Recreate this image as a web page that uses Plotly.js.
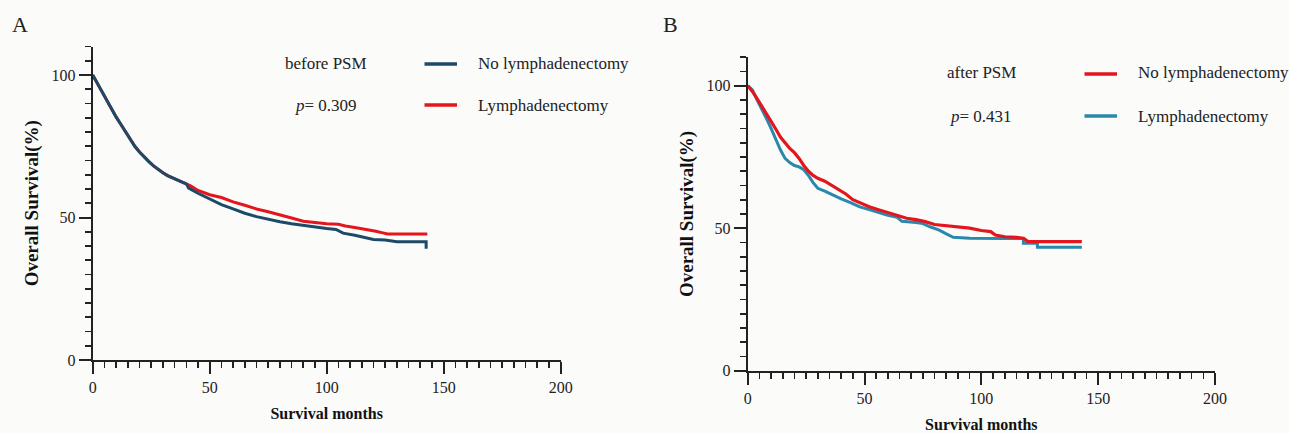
<!DOCTYPE html>
<html>
<head>
<meta charset="utf-8">
<script src="https://cdn.plot.ly/plotly-3.0.1.min.js"></script>
<style>html,body{margin:0;padding:0;background:#fbfbfa;}#chart{width:1289px;height:433px;}</style>
</head>
<body>
<div id="chart"></div>
<script>
// ---- Panel A (before PSM) ----
const monthsA_noLymph = [0,2,4,6,8,10,12,14,16,18,20,22,24,26,28,30,32,34,36,38,40,41,45,50,55,60,65,70,75,80,85,90,95,100,104,107,112,116,120,125,130,142,142.5,142.5];
const survA_noLymph   = [100,97,94,91,88,85.3,82.7,80.1,77.4,75,73,71.2,69.6,68.1,66.8,65.7,64.7,63.9,63.2,62.5,61.8,60.3,58.5,56.5,54.5,53,51.5,50.3,49.3,48.5,47.8,47.2,46.6,46.1,45.8,44.5,43.8,43,42.3,42.1,41.5,41.5,41.5,39];
const monthsA_lymph = [0,2,4,6,8,10,12,14,16,18,20,22,24,26,28,30,32,34,36,38,40,42,45,50,55,60,65,70,75,80,85,90,95,100,105,108,112,118,121,124,126,143];
const survA_lymph   = [100,97,94,91,88,85.3,82.7,80.1,77.4,75,73,71.2,69.6,68.1,66.8,65.7,64.7,63.9,63.2,62.5,61.8,61,59.5,58,57,55.5,54.3,53,52,51,49.8,48.7,48.2,47.8,47.6,47,46.5,45.8,45.2,44.6,44.2,44.2];

// ---- Panel B (after PSM) ----
const monthsB_noLymph = [0,2,4,6,8,10,12,14,16,18,20,22,24,26,28,30,33,36,39,42,45,48,52,56,60,64,68,72,76,80,85,90,95,100,104,106,110,115,118,120,143];
const survB_noLymph   = [100,98,95.5,93,90,87.5,84.8,82,80,78,76.5,74.5,72,70,68.5,67.5,66.5,65,63.5,62,60,58.8,57.5,56.5,55.5,54.5,53.5,53,52.3,51.3,50.8,50.5,50,49.2,48.8,47.6,47,46.8,46.5,45.3,45.3];
const monthsB_lymph = [0,2,4,6,8,10,12,14,16,18,20,22,24,26,28,30,33,36,40,44,48,52,56,60,64,66,72,75,78,82,85,88,95,100,110,118,118,124,124,143];
const survB_lymph   = [100,98.5,95,92,88.5,85,81,77.5,74.5,73,72,71.5,70.5,68.5,66,64,63,61.8,60.3,59,57.5,56.5,55.5,54.5,53.8,52.4,52,51.6,50.5,49.3,48,46.8,46.5,46.4,46.4,46.4,44.7,44.7,43.3,43.3];

const labels = {
  panelA: "A", panelB: "B",
  groupA: "before PSM", groupB: "after PSM",
  pA: "0.309", pB: "0.431",
  noLymph: "No lymphadenectomy", lymph: "Lymphadenectomy",
  xTitle: "Survival months", yTitle: "Overall Survival(%)"
};
const yTickVals = [0, 50, 100];
const xTickVals = [0, 50, 100, 150, 200];

const RED = "#e4151c", NAVY = "#1c4a68", TEAL = "#2a88ab";
const W = 1289, H = 433;
const px = v => v / W, py = v => 1 - v / H;
const serif = "Liberation Serif, Times New Roman, serif";

const traces = [
  {x: monthsA_lymph, y: survA_lymph, xaxis: "x", yaxis: "y", mode: "lines", line: {color: RED, width: 3}, name: labels.lymph},
  {x: monthsA_noLymph, y: survA_noLymph, xaxis: "x", yaxis: "y", mode: "lines", line: {color: NAVY, width: 3}, name: labels.noLymph},
  {x: monthsB_lymph, y: survB_lymph, xaxis: "x2", yaxis: "y2", mode: "lines", line: {color: TEAL, width: 3}, name: labels.lymph},
  {x: monthsB_noLymph, y: survB_noLymph, xaxis: "x2", yaxis: "y2", mode: "lines", line: {color: RED, width: 3.2}, name: labels.noLymph}
];

function xa(domain, anchor) {
  return {
    domain: domain, anchor: anchor, range: [0, 200], tickvals: xTickVals, ticktext: xTickVals.map(String),
    showline: true, linecolor: "#222", linewidth: 2, ticks: "outside", ticklen: 12, tickwidth: 2, tickcolor: "#222",
    minor: {dtick: 5, tick0: 0, ticks: "outside", ticklen: 6, tickwidth: 1.6, tickcolor: "#222", showgrid: false},
    showgrid: false, zeroline: false, fixedrange: true,
    tickfont: {family: serif, size: 16, color: "#222"},
    title: {text: labels.xTitle, font: {family: serif, size: 16, color: "#111", weight: "bold"}, standoff: 13}
  };
}
function ya(domain, anchor) {
  return {
    domain: domain, anchor: anchor, range: [0, 110], tickvals: yTickVals, ticktext: yTickVals.map(String),
    showline: true, linecolor: "#222", linewidth: 2, ticks: "outside", ticklen: 12, tickwidth: 2, tickcolor: "#222",
    minor: {dtick: 5, tick0: 0, ticks: "outside", ticklen: 6, tickwidth: 1.6, tickcolor: "#222", showgrid: false},
    showgrid: false, zeroline: false, fixedrange: true,
    tickfont: {family: serif, size: 16, color: "#222"},
    title: {text: labels.yTitle, font: {family: serif, size: 19, color: "#111", weight: "bold"}, standoff: 8}
  };
}

function note(text, x, y, size, xanchor) {
  return {text: text, x: px(x), y: py(y), xref: "paper", yref: "paper", xanchor: xanchor || "center", yanchor: "middle",
          showarrow: false, font: {family: serif, size: size, color: "#222"}};
}

const layout = {
  width: W, height: H, margin: {l: 0, r: 0, t: 0, b: 0},
  paper_bgcolor: "#fbfbfa", plot_bgcolor: "rgba(0,0,0,0)", showlegend: false,
  xaxis: xa([px(92.7), px(560.7)], "y"),
  yaxis: ya([py(360), py(46.5)], "x"),
  xaxis2: xa([px(747.7), px(1215)], "y2"),
  yaxis2: ya([py(370.7), py(57.2)], "x2"),
  shapes: [
    {type: "line", xref: "paper", yref: "paper", x0: px(424.5), x1: px(457), y0: py(64), y1: py(64), line: {color: NAVY, width: 3.5}},
    {type: "line", xref: "paper", yref: "paper", x0: px(424.5), x1: px(457), y0: py(105), y1: py(105), line: {color: RED, width: 3.5}},
    {type: "line", xref: "paper", yref: "paper", x0: px(1084.5), x1: px(1117), y0: py(74), y1: py(74), line: {color: RED, width: 3.5}},
    {type: "line", xref: "paper", yref: "paper", x0: px(1084.5), x1: px(1117), y0: py(116), y1: py(116), line: {color: TEAL, width: 3.5}}
  ],
  annotations: [
    note(labels.panelA, 20, 25, 22),
    note(labels.panelB, 670, 25, 22),
    note(labels.groupA, 326, 63, 17),
    note("<i>p</i>= " + labels.pA, 326, 105, 17),
    note(labels.noLymph, 476, 63, 17, "left"),
    note(labels.lymph, 476, 105, 17, "left"),
    note(labels.groupB, 981, 73, 17),
    note("<i>p</i>= " + labels.pB, 981, 116, 17),
    note(labels.noLymph, 1136, 73, 17, "left"),
    note(labels.lymph, 1136, 116, 17, "left")
  ]
};

Plotly.newPlot("chart", traces, layout, {staticPlot: true, displayModeBar: false});
</script>
</body>
</html>
